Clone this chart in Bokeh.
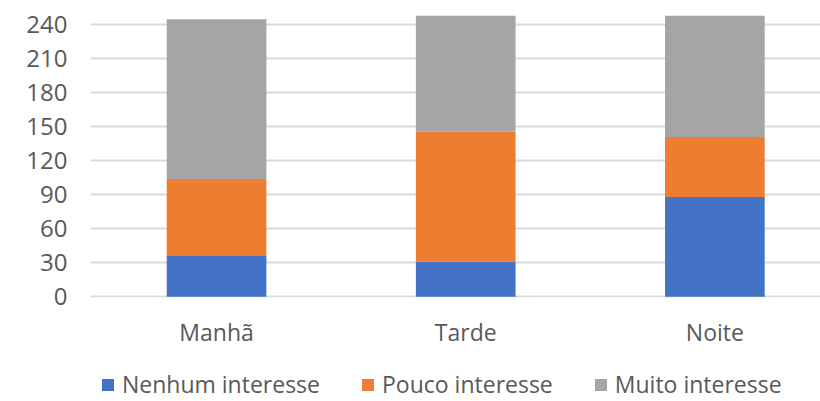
from bokeh.plotting import figure
from bokeh.layouts import column
from bokeh.models import Range1d, FixedTicker, Legend, LegendItem, ColumnDataSource
from bokeh.embed import file_html
from bokeh.resources import INLINE

categories = ["Manhã", "Tarde", "Noite"]
series_names = ["Nenhum interesse", "Pouco interesse", "Muito interesse"]
nenhum = [36, 31, 88]
pouco = [68, 115, 53]
muito = [141, 102, 107]
y_ticks = [0, 30, 60, 90, 120, 150, 180, 210, 240]
colors = ["#4472C4", "#ED7D31", "#A5A5A5"]

FONT = "Open Sans"
TXT = "#595959"

# main chart
p = figure(width=820, height=360, output_backend="svg", toolbar_location=None,
           x_range=Range1d(-0.506, 2.424), y_range=Range1d(-0.6, 261.5),
           min_border_left=90, min_border_right=0, min_border_top=0, min_border_bottom=63)
p.outline_line_color = None
p.background_fill_color = "white"
p.border_fill_color = "white"

xs = list(range(len(categories)))
src = ColumnDataSource(dict(x=xs, nenhum=nenhum, pouco=pouco, muito=muito))
renderers = p.vbar_stack(["nenhum", "pouco", "muito"], x="x", width=0.40, color=colors,
                         line_color=None, source=src)

p.xgrid.visible = False
p.ygrid.grid_line_color = "#d9d9d9"
p.ygrid.grid_line_width = 2
p.ygrid.ticker = FixedTicker(ticks=y_ticks)

ya = p.yaxis[0]
ya.ticker = FixedTicker(ticks=y_ticks)
ya.axis_line_color = None
ya.major_tick_line_color = None
ya.minor_tick_line_color = None
ya.major_tick_out = 0
ya.major_tick_in = 0
ya.major_label_text_font = FONT
ya.major_label_text_font_size = "24px"
ya.major_label_text_color = TXT
ya.major_label_standoff = 23

xa = p.xaxis[0]
xa.ticker = FixedTicker(ticks=xs)
xa.major_label_overrides = {i: c for i, c in enumerate(categories)}
xa.axis_line_color = None
xa.major_tick_line_color = None
xa.minor_tick_line_color = None
xa.major_tick_out = 0
xa.major_tick_in = 0
xa.major_label_text_font = FONT
xa.major_label_text_font_size = "23px"
xa.major_label_text_color = TXT
xa.major_label_standoff = 18

# legend strip (its frame is aligned with the main chart's frame by the column layout)
pl = figure(width=820, height=41, output_backend="svg", toolbar_location=None,
            x_range=Range1d(0, 1), y_range=Range1d(0, 1),
            x_axis_type=None, y_axis_type=None, min_border=0)
pl.outline_line_color = None
pl.grid.visible = False
nan = float("nan")
leg_renderers = [pl.vbar(x=[nan], top=[nan], width=0.1, color=c, line_color=None) for c in colors]
legend = Legend(items=[LegendItem(label=n, renderers=[r]) for n, r in zip(series_names, leg_renderers)],
                orientation="horizontal", location=(10, 1),
                glyph_width=15, glyph_height=15, label_standoff=7, spacing=40,
                padding=0, margin=0, border_line_color=None, background_fill_alpha=0,
                label_text_font=FONT, label_text_font_size="23px", label_text_color=TXT)
pl.add_layout(legend, "center")

layout = column(p, pl, spacing=0)
open("out.html", "w").write(file_html(layout, INLINE))
